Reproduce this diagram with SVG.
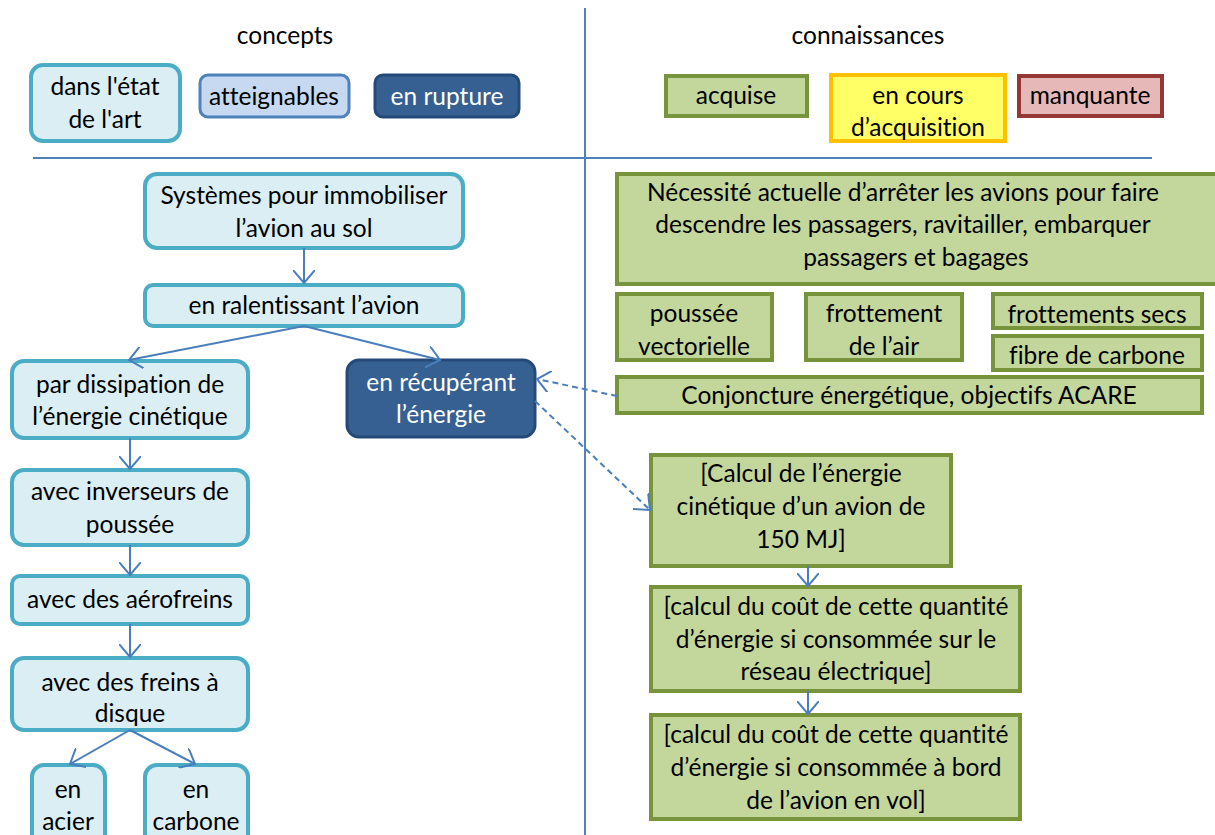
<svg xmlns="http://www.w3.org/2000/svg" width="1215" height="835" viewBox="0 0 1215 835">
<style>
text{font-family:Lato,"Liberation Sans",sans-serif;font-size:24.5px;fill:#000;text-anchor:middle;font-variant-ligatures:none;font-feature-settings:"liga" 0}
.w{fill:#fff}
.art{fill:#dbeef4;stroke:#4bacc6;stroke-width:4}
.att{fill:#c6d9f1;stroke:#4f81bd;stroke-width:3}
.rup{fill:#366092;stroke:#254a7a;stroke-width:3}
.acq{fill:#c3d69b;stroke:#77933c;stroke-width:4}
.enc{fill:#ffff66;stroke:#ffc000;stroke-width:4}
.man{fill:#e6b9b8;stroke:#953735;stroke-width:4}
.sep{stroke:#4f81bd;stroke-width:2;fill:none}
.c{stroke:#4a7ebb;stroke-width:2;fill:none;marker-end:url(#v)}
.d{stroke:#4a7ebb;stroke-width:2;fill:none;stroke-dasharray:6 4;marker-end:url(#v)}
</style>
<defs>
<marker id="v" viewBox="0 0 14 22" refX="13" refY="11" markerWidth="14" markerHeight="22" orient="auto" markerUnits="userSpaceOnUse">
<path d="M0,0 L13,11 L0,22" fill="none" stroke="#4a7ebb" stroke-width="2"/>
</marker>
</defs>
<rect width="1215" height="835" fill="#fff"/>
<g id="separators">
<line class="sep" x1="585" y1="8" x2="585" y2="835"/>
<line class="sep" x1="33" y1="158" x2="1152" y2="158"/>
</g>
<g id="headers">
<text x="285" y="44">concepts</text>
<text x="868" y="44">connaissances</text>
</g>
<g id="legend-art"><rect class="art" x="31" y="65" width="149" height="76" rx="12"/><text x="105" y="95">dans l'état</text><text x="105" y="128">de l'art</text></g>
<g id="legend-att"><rect class="att" x="200" y="75" width="149" height="42" rx="8"/><text x="274" y="105">atteignables</text></g>
<g id="legend-rup"><rect class="rup" x="375" y="75" width="144" height="42" rx="8"/><text class="w" x="447" y="105">en rupture</text></g>
<g id="legend-acq"><rect class="acq" x="666" y="76" width="141" height="40"/><text x="736" y="104">acquise</text></g>
<g id="legend-enc"><rect class="enc" x="831" y="75" width="174" height="66"/><text x="918" y="104">en cours</text><text x="918" y="136">d’acquisition</text></g>
<g id="legend-man"><rect class="man" x="1019" y="76" width="143" height="40"/><text x="1090" y="104">manquante</text></g>

<g id="n-systemes"><rect class="art" x="145" y="174" width="318" height="74" rx="12"/><text x="304" y="204">Systèmes pour immobiliser</text><text x="304" y="237">l’avion au sol</text></g>
<g id="n-ralentissant"><rect class="art" x="145" y="285" width="318" height="41" rx="8"/><text x="304" y="314">en ralentissant l’avion</text></g>
<g id="n-dissipation"><rect class="art" x="12" y="361" width="236" height="77" rx="12"/><text x="130" y="393">par dissipation de</text><text x="130" y="425">l’énergie cinétique</text></g>
<g id="n-recuperant"><rect class="rup" x="347" y="360" width="188" height="77" rx="12"/><text class="w" x="441" y="391">en récupérant</text><text class="w" x="441" y="423">l’énergie</text></g>
<g id="n-inverseurs"><rect class="art" x="12" y="470" width="236" height="75" rx="12"/><text x="130" y="500">avec inverseurs de</text><text x="130" y="533">poussée</text></g>
<g id="n-aerofreins"><rect class="art" x="12" y="576" width="236" height="48" rx="8"/><text x="130" y="608">avec des aérofreins</text></g>
<g id="n-freins"><rect class="art" x="12" y="658" width="236" height="72" rx="12"/><text x="130" y="691">avec des freins à</text><text x="130" y="722">disque</text></g>
<g id="n-acier"><rect class="art" x="32" y="765" width="73" height="85" rx="12"/><text x="68" y="798">en</text><text x="68" y="830">acier</text></g>
<g id="n-carbone"><rect class="art" x="145" y="765" width="103" height="85" rx="12"/><text x="196" y="798">en</text><text x="196" y="830">carbone</text></g>

<g id="k-necessite"><rect class="acq" x="617" y="174" width="610" height="110"/><text x="903" y="201">Nécessité actuelle d’arrêter les avions pour faire</text><text x="903" y="233">descendre les passagers, ravitailler, embarquer</text><text x="916" y="266">passagers et bagages</text></g>
<g id="k-poussee"><rect class="acq" x="617" y="294" width="155" height="66"/><text x="694" y="322">poussée</text><text x="694" y="355">vectorielle</text></g>
<g id="k-frottement"><rect class="acq" x="806" y="294" width="156" height="66"/><text x="884" y="322">frottement</text><text x="884" y="355">de l’air</text></g>
<g id="k-secs"><rect class="acq" x="993" y="294" width="209" height="34"/><text x="1097" y="323">frottements secs</text></g>
<g id="k-fibre"><rect class="acq" x="993" y="336" width="209" height="34"/><text x="1097" y="364">fibre de carbone</text></g>
<g id="k-conjoncture"><rect class="acq" x="617" y="377" width="585" height="36"/><text x="909" y="404">Conjoncture énergétique, objectifs ACARE</text></g>
<g id="k-calcul1"><rect class="acq" x="651" y="455" width="300" height="111"/><text x="801" y="482">[Calcul de l’énergie</text><text x="801" y="515">cinétique d’un avion de</text><text x="801" y="548">150 MJ]</text></g>
<g id="k-calcul2"><rect class="acq" x="651" y="587" width="369" height="104"/><text x="836" y="615">[calcul du coût de cette quantité</text><text x="836" y="648">d’énergie si consommée sur le</text><text x="836" y="680">réseau électrique]</text></g>
<g id="k-calcul3"><rect class="acq" x="651" y="715" width="369" height="104"/><text x="836" y="743">[calcul du coût de cette quantité</text><text x="836" y="776">d’énergie si consommée à bord</text><text x="836" y="809">de l’avion en vol]</text></g>

<g id="connectors">
<line class="c" x1="304" y1="248" x2="304" y2="283"/>
<line class="c" x1="304" y1="326" x2="129" y2="360"/>
<line class="c" x1="304" y1="326" x2="440" y2="360"/>
<line class="c" x1="130" y1="438" x2="130" y2="469"/>
<line class="c" x1="130" y1="545" x2="130" y2="575"/>
<line class="c" x1="130" y1="624" x2="130" y2="657"/>
<line class="c" x1="130" y1="730" x2="70" y2="764"/>
<line class="c" x1="130" y1="730" x2="195" y2="764"/>
<line class="c" x1="808" y1="566" x2="808" y2="586"/>
<line class="c" x1="808" y1="691" x2="808" y2="714"/>
<line class="d" x1="617" y1="396" x2="537" y2="379"/>
<line class="d" x1="535" y1="401" x2="650" y2="510"/>
</g>
</svg>
